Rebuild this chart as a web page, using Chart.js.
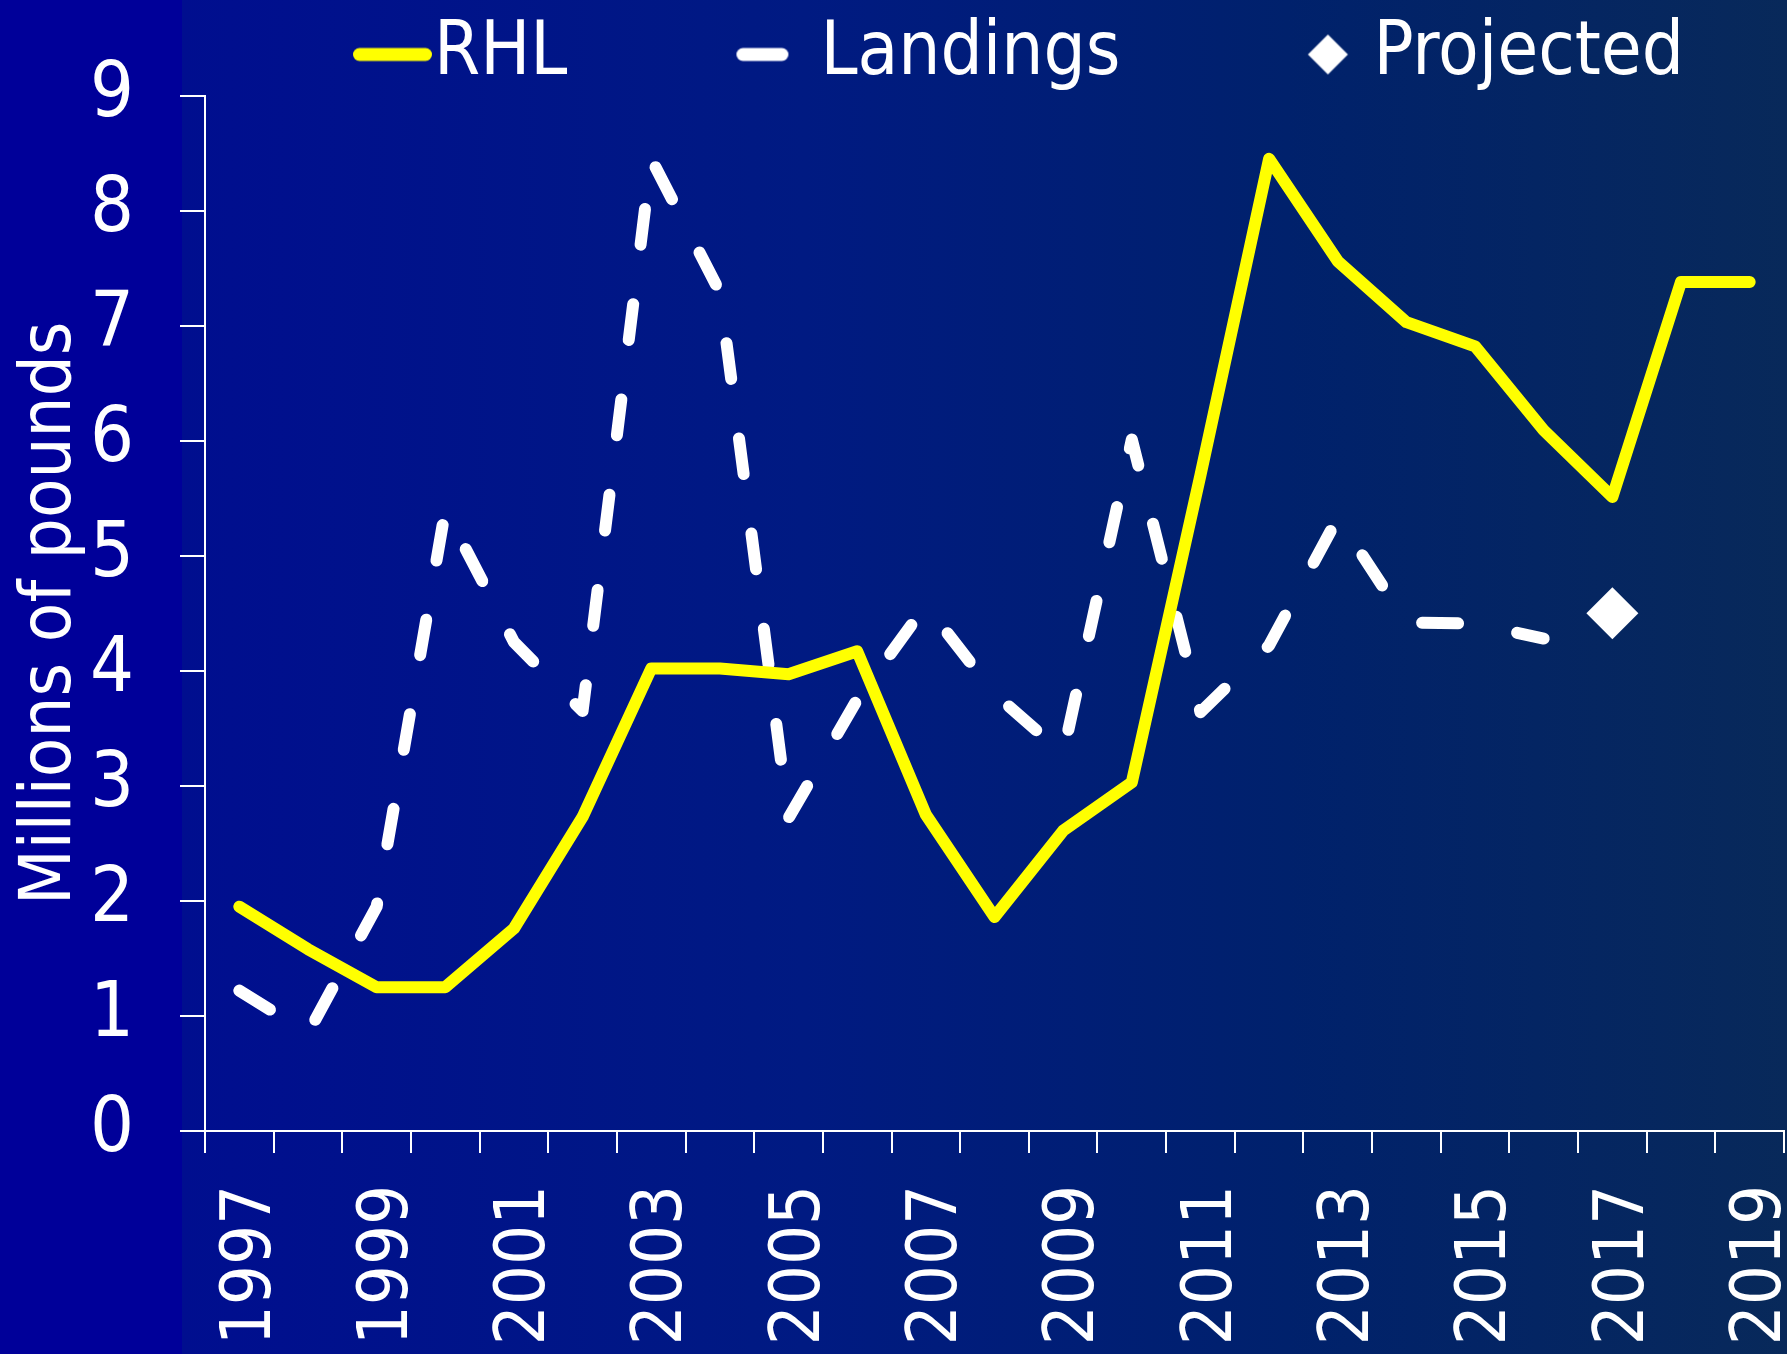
<!DOCTYPE html>
<html>
<head>
<meta charset="utf-8">
<title>RHL and Landings</title>
<script src="https://cdn.jsdelivr.net/npm/chart.js@4.4.1/dist/chart.umd.min.js"></script>
<style>
	html, body {
		margin: 0;
		padding: 0;
	}
	body {
		width: 1787px;
		height: 1354px;
		overflow: hidden;
		background: linear-gradient(to right, #000099 0px, #000099 182px, #000e8f 182px, #001a82 45%, #00216c 72%, #08295a 100%);
	}
	canvas {
		display: block;
	}
</style>
</head>
<body>
<canvas id="myChart" width="1787" height="1354"></canvas>

<script>
	const years = ["1997", "1998", "1999", "2000", "2001", "2002", "2003", "2004", "2005", "2006", "2007", "2008",
		"2009", "2010", "2011", "2012", "2013", "2014", "2015", "2016", "2017", "2018", "2019"];
	const rhl = [1.95, 1.58, 1.25, 1.25, 1.76, 2.73, 4.02, 4.02, 3.97, 4.17, 2.75, 1.86,
		2.61, 3.03, 5.7, 8.45, 7.56, 7.03, 6.82, 6.09, 5.51, 7.38, 7.38];
	const landings = [1.22, 0.85, 1.95, 5.4, 4.25, 3.65, 8.45, 7.29, 2.72, 3.75, 4.57, 3.8,
		3.28, 6.01, 3.64, 4.22, 5.33, 4.42, 4.41, 4.28, null, null, null];
	const projected = [null, null, null, null, null, null, null, null, null, null, null, null,
		null, null, null, null, null, null, null, null, 4.5, null, null];
	const yTicks = [0, 1, 2, 3, 4, 5, 6, 7, 8, 9];

	const FONT = '"DejaVu Sans Condensed", "DejaVu Sans", sans-serif';
	const LEGEND_FONT = 74;
	const LEGEND_BOX = 206;
	const LEGEND_TEXT_X = 434; // where the first legend label starts
	const LEGEND_DROP = 6;

	// legend symbols drawn on small canvases, so each sits at its own spot next to its label
	function legendSymbol(draw) {
		const c = document.createElement("canvas");
		c.width = 300;
		c.height = 60;
		draw(c.getContext("2d"));
		return c;
	}

	const symbols = [
		legendSymbol((g) => {
			g.strokeStyle = "#ffff00";
			g.lineWidth = 13;
			g.lineCap = "round";
			g.beginPath();
			g.moveTo(215.5, 30);
			g.lineTo(281.5, 30);
			g.stroke();
		}),
		legendSymbol((g) => {
			g.strokeStyle = "#ffffff";
			g.lineWidth = 13;
			g.lineCap = "round";
			g.beginPath();
			g.moveTo(212.5, 30);
			g.lineTo(251.5, 30);
			g.stroke();
		}),
		legendSymbol((g) => {
			g.fillStyle = "#ffffff";
			g.beginPath();
			g.moveTo(244.5, 10);
			g.lineTo(264.5, 30);
			g.lineTo(244.5, 50);
			g.lineTo(224.5, 30);
			g.closePath();
			g.fill();
		}),
	];

	// the legend row sits right of centre and a little lower in the original
	const legendNudge = {
		id: "legendNudge",
		afterLayout(chart) {
			const lg = chart.legend;
			const pad = lg.options.labels.padding;
			const x0 = (lg.left + pad + lg.right - lg.lineWidths[0]) / 2;
			const dx = LEGEND_TEXT_X - (x0 + LEGEND_BOX + LEGEND_FONT / 2);
			lg.left += dx;
			lg.right += dx;
			lg.top += LEGEND_DROP;
			lg.bottom += LEGEND_DROP;
		},
	};

	Chart.defaults.font.family = FONT;
	Chart.defaults.color = "#ffffff";

	const ctx = document.getElementById("myChart").getContext("2d");

	const myChart = new Chart(ctx, {
		type: "line",
		data: {
			labels: years,
			datasets: [
				{
					label: "RHL",
					data: rhl,
					borderColor: "#ffff00",
					backgroundColor: "#ffff00",
					borderWidth: 12,
					borderCapStyle: "round",
					borderJoinStyle: "round",
					pointRadius: 0,
					tension: 0,
				},
				{
					label: "Landings",
					data: landings,
					borderColor: "#ffffff",
					backgroundColor: "#ffffff",
					borderWidth: 12,
					borderDash: [36, 60],
					borderCapStyle: "round",
					borderJoinStyle: "round",
					pointRadius: 0,
					tension: 0,
				},
				{
					label: "Projected",
					data: projected,
					showLine: false,
					pointStyle: "rectRot",
					pointRadius: 26,
					backgroundColor: "#ffffff",
					borderColor: "#ffffff",
					borderWidth: 0,
				},
			],
		},
		options: {
			responsive: false,
			animation: false,
			layout: {
				autoPadding: false,
				padding: { top: 1.5, right: 3, bottom: 0, left: 0 },
			},
			plugins: {
				tooltip: { enabled: false },
				legend: {
					position: "top",
					labels: {
						usePointStyle: true,
						pointStyleWidth: LEGEND_BOX,
						padding: 10,
						font: { size: LEGEND_FONT },
						generateLabels: (chart) =>
							chart.data.datasets.map((ds, i) => ({
								text: ds.label,
								pointStyle: symbols[i],
								fontColor: "#ffffff",
								lineWidth: 0,
								hidden: false,
								datasetIndex: i,
							})),
					},
				},
			},
			scales: {
				x: {
					offset: true,
					grid: {
						offset: true,
						drawOnChartArea: false,
						color: "#ffffff",
						lineWidth: 2,
						tickLength: 22,
					},
					border: { color: "#ffffff", width: 2 },
					ticks: {
						autoSkip: false,
						minRotation: 90,
						maxRotation: 90,
						padding: 32,
						labelOffset: 12,
						font: { size: 70 },
						callback: (value, index) => (index % 2 === 0 ? years[index] : ""),
					},
					afterFit: (scale) => {
						scale.height = 223;
						scale.paddingLeft = 0;
						scale.paddingRight = 0;
					},
				},
				y: {
					min: 0,
					max: 9,
					afterBuildTicks: (scale) => {
						scale.ticks = yTicks.map((v) => ({ value: v }));
					},
					grid: {
						drawOnChartArea: false,
						color: "#ffffff",
						lineWidth: 2,
						tickLength: 25,
					},
					border: { color: "#ffffff", width: 2 },
					ticks: {
						autoSkip: false,
						padding: 46,
						font: { size: 77 },
					},
					title: {
						display: true,
						text: "Millions of pounds",
						font: { size: 72, lineHeight: 1.1 },
						padding: { top: 12, bottom: 0 },
					},
					afterFit: (scale) => {
						scale.width = 205;
					},
				},
			},
		},
		plugins: [legendNudge],
	});
</script>
</body>
</html>
